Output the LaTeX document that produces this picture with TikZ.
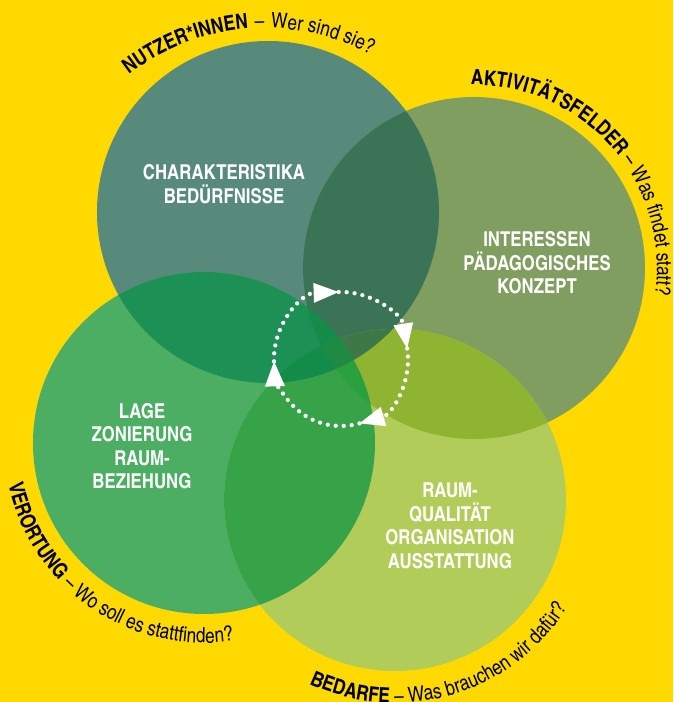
\documentclass[tikz,border=0pt]{standalone}
\usepackage{fontspec}
\setmainfont{texgyreheroscn}[Extension=.otf, UprightFont=*-regular, BoldFont=*-bold]
\usetikzlibrary{arrows.meta, decorations.text}

\definecolor{bgyellow}{RGB}{255,217,0}
\definecolor{nutzercol}{RGB}{87,138,122}
\definecolor{aktivcol}{RGB}{127,158,96}
\definecolor{verortcol}{RGB}{75,174,99}
\definecolor{bedarfcol}{RGB}{178,204,90}
\definecolor{nvcol}{RGB}{28,144,85}
\definecolor{nacol}{RGB}{58,115,85}
\definecolor{abcol}{RGB}{143,180,50}
\definecolor{vbcol}{RGB}{55,163,73}
\definecolor{navcol}{RGB}{22,140,74}
\definecolor{nabcol}{RGB}{62,120,72}
\definecolor{nvbcol}{RGB}{18,140,72}
\definecolor{avbcol}{RGB}{42,160,62}
\definecolor{allcol}{RGB}{30,138,68}

\newcommand\headfont{\fontsize{21}{25}\selectfont\bfseries}
\newcommand\askfont{\fontsize{21}{25}\selectfont}

\tikzset{
	circletext/.style={text=white, font=\fontsize{20.5}{23.5}\selectfont\bfseries, align=center},
	cycleline/.style={white, line width=4.3pt, line cap=round, dash pattern=on 0pt off 8pt,
		-{Triangle[length=25pt, width=20pt, line width=0pt]}},
	arctext/.style={decorate, decoration={text along path, text align=left, text={#1}}}
}

\begin{document}
\begin{tikzpicture}[x=1pt, y=1pt]
	\fill[bgyellow] (0,0) rectangle (673,702);
	\useasboundingbox (0,0) rectangle (673,702);

	\def\rad{171}
	\coordinate (nutzer) at (268,490);
	\coordinate (aktiv) at (474,434);
	\coordinate (verort) at (204,259);
	\coordinate (bedarf) at (395,202);
	\coordinate (cyc) at (341,343);
	\coordinate (nutzerbow) at (265,453);

	\fill[nutzercol] (nutzer) circle (\rad);
	\fill[aktivcol] (aktiv) circle (\rad);
	\fill[verortcol] (verort) circle (\rad);
	\fill[bedarfcol] (bedarf) circle (\rad);

	\begin{scope}
		\clip (nutzer) circle (\rad);
		\fill[nvcol] (verort) circle (\rad);
		\fill[nacol] (aktiv) circle (\rad);
	\end{scope}
	\begin{scope}
		\clip (bedarf) circle (\rad);
		\fill[abcol] (aktiv) circle (\rad);
		\fill[vbcol] (verort) circle (\rad);
	\end{scope}
	\begin{scope}
		\clip (nutzer) circle (\rad);
		\clip (aktiv) circle (\rad);
		\fill[navcol] (verort) circle (\rad);
		\fill[nabcol] (bedarf) circle (\rad);
	\end{scope}
	\begin{scope}
		\clip (verort) circle (\rad);
		\clip (bedarf) circle (\rad);
		\fill[nvbcol] (nutzer) circle (\rad);
		\fill[avbcol] (aktiv) circle (\rad);
	\end{scope}
	\begin{scope}
		\clip (nutzer) circle (\rad);
		\clip (aktiv) circle (\rad);
		\clip (verort) circle (\rad);
		\fill[allcol] (bedarf) circle (\rad);
	\end{scope}

	\node[circletext] (nutzertext) at (224,518) {CHARAKTERISTIKA\\BEDÜRFNISSE};
	\node[circletext] (aktivtext) at (537,439) {INTERESSEN\\PÄDAGOGISCHES\\KONZEPT};
	\node[circletext] (veroorttext) at (142,256) {LAGE\\ZONIERUNG\\RAUM-\\BEZIEHUNG};
	\node[circletext] (bedarftext) at (450,176) {RAUM-\\QUALITÄT\\ORGANISATION\\AUSSTATTUNG};

	% cycle in the middle
	\draw[cycleline] ([shift=(182:67)]cyc) arc[start angle=182, end angle=92, radius=67];
	\draw[cycleline] ([shift=(92:67)]cyc) arc[start angle=92, end angle=9, radius=67];
	\draw[cycleline] ([shift=(9:67)]cyc) arc[start angle=9, end angle=-74, radius=67];
	\draw[cycleline] ([shift=(-74:67)]cyc) arc[start angle=-74, end angle=-178, radius=67];

	% curved titles
	\path[arctext={|\headfont|NUTZER*INNEN|\askfont| {\hspace{1.5pt}}{\textendash}{\hspace{1.5pt}} Wer sind sie?}]
		([shift=(128:221)]nutzerbow) arc[start angle=128, end angle=40, radius=221];
	\path[arctext={|\headfont|AKTIVITÄTSFELDER|\askfont| {\textendash} Was findet statt?}]
		([shift=(91:183)]aktiv) arc[start angle=91, end angle=-25, radius=183];
	\path[arctext={|\headfont|VERORTUNG|\askfont| {\textendash} Wo soll es stattfinden?}]
		([shift=(192:200)]verort) arc[start angle=192, end angle=300, radius=200];
	\path[arctext={|\headfont|BEDARFE|\askfont| {\textendash} Was brauchen wir dafür?}]
		([shift=(245:203)]bedarf) arc[start angle=245, end angle=345, radius=203];
\end{tikzpicture}
\end{document}
